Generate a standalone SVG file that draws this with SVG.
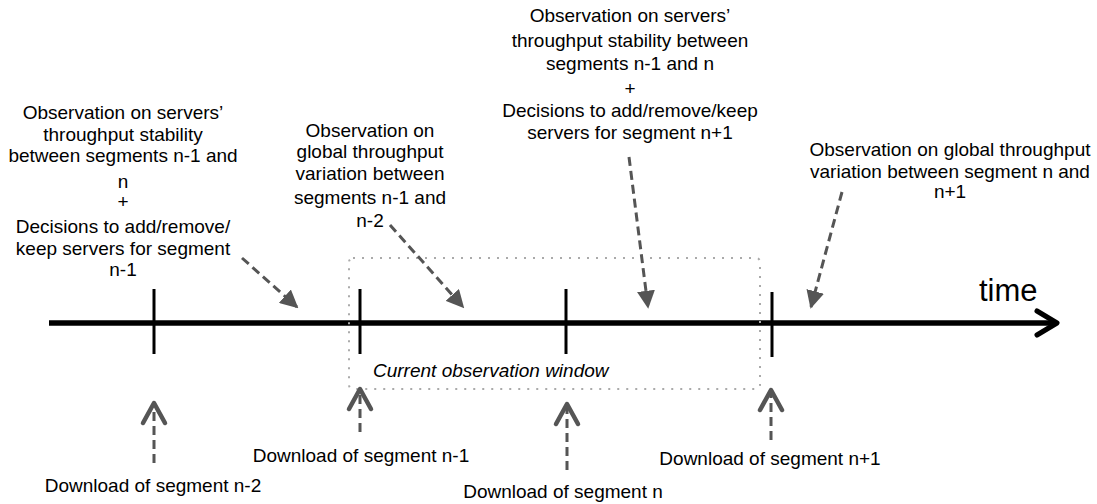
<svg xmlns="http://www.w3.org/2000/svg" width="1097" height="504" viewBox="0 0 1097 504">
<style>
  text { font-family: "Liberation Sans", Arial, sans-serif; font-size: 19px; fill: #000; }
  .c { text-anchor: middle; }
  .it { font-style: italic; }
  .tick { stroke: #000; stroke-width: 3; }
  .obs { stroke: #555; stroke-width: 3; stroke-dasharray: 9 5; fill: none; }
  .dl { stroke: #555; stroke-width: 3; stroke-dasharray: 9 5; fill: none; }
  .chev { stroke: #555; stroke-width: 4.5; fill: none; stroke-linecap: round; stroke-linejoin: round; }
</style>
<defs>
  <marker id="tri" viewBox="0 0 10 10" refX="9" refY="5" markerWidth="6" markerHeight="6" markerUnits="strokeWidth" orient="auto">
    <path d="M0,0 L10,5 L0,10 Z" fill="#555"/>
  </marker>
</defs>
<rect width="1097" height="504" fill="#fff"/>

<g id="timeline">
  <line x1="49" y1="323" x2="1054" y2="323" stroke="#000" stroke-width="5.5"/>
  <polyline points="1037,311 1057,323 1037,335" fill="none" stroke="#000" stroke-width="5" stroke-linecap="round" stroke-linejoin="round"/>
  <text x="979" y="301" style="font-size:31px">time</text>
</g>

<g id="ticks">
  <line class="tick" x1="154" y1="289" x2="154" y2="354"/>
  <line class="tick" x1="360" y1="289" x2="360" y2="354"/>
  <line class="tick" x1="566" y1="289" x2="566" y2="354"/>
  <line class="tick" x1="772" y1="292" x2="772" y2="357"/>
</g>

<g id="window">
  <rect x="349" y="258" width="411" height="131" rx="4" fill="none" stroke="#aaa" stroke-width="2" stroke-dasharray="2 7"/>
  <text class="it" x="373" y="377">Current observation window</text>
</g>

<g id="obs1">
  <text class="c" x="123" y="119">Observation on servers’</text>
  <text class="c" x="123" y="141">throughput stability</text>
  <text class="c" x="123" y="162">between segments n-1 and</text>
  <text class="c" x="123" y="188">n</text>
  <text class="c" x="123" y="208">+</text>
  <text class="c" x="123" y="233">Decisions to add/remove/</text>
  <text class="c" x="123" y="255">keep servers for segment</text>
  <text class="c" x="123" y="276">n-1</text>
</g>

<g id="obs2">
  <text class="c" x="370" y="137">Observation on</text>
  <text class="c" x="370" y="158">global throughput</text>
  <text class="c" x="370" y="180">variation between</text>
  <text class="c" x="370" y="204">segments n-1 and</text>
  <text class="c" x="370" y="227">n-2</text>
</g>

<g id="obs3">
  <text class="c" x="630" y="22">Observation on servers’</text>
  <text class="c" x="630" y="47">throughput stability between</text>
  <text class="c" x="630" y="70">segments n-1 and n</text>
  <text class="c" x="630" y="95">+</text>
  <text class="c" x="630" y="117">Decisions to add/remove/keep</text>
  <text class="c" x="630" y="139">servers for segment n+1</text>
</g>

<g id="obs4">
  <text class="c" x="950" y="156">Observation on global throughput</text>
  <text class="c" x="950" y="178">variation between segment n and</text>
  <text class="c" x="950" y="198">n+1</text>
</g>

<g id="dl-labels">
  <text class="c" x="153" y="492">Download of segment n-2</text>
  <text class="c" x="361" y="462">Download of segment n-1</text>
  <text class="c" x="563" y="498">Download of segment n</text>
  <text class="c" x="770" y="465">Download of segment n+1</text>
</g>

<g id="connectors">
  <line class="obs" x1="242" y1="258" x2="297" y2="307" marker-end="url(#tri)"/>
  <line class="obs" x1="390" y1="225" x2="463" y2="307" marker-end="url(#tri)"/>
  <line class="obs" x1="629" y1="157" x2="648" y2="307" marker-end="url(#tri)"/>
  <line class="obs" x1="842" y1="192" x2="811" y2="307" marker-end="url(#tri)"/>

  <line class="dl" x1="154" y1="463" x2="154" y2="406"/>
  <polyline class="chev" points="143,423 154,403 165,423"/>
  <line class="dl" x1="360" y1="432" x2="360" y2="392"/>
  <polyline class="chev" points="349,409 360,389 371,409"/>
  <line class="dl" x1="567" y1="470" x2="567" y2="407"/>
  <polyline class="chev" points="556,424 567,404 578,424"/>
  <line class="dl" x1="771" y1="440" x2="771" y2="393"/>
  <polyline class="chev" points="760,410 771,390 782,410"/>
</g>
</svg>
